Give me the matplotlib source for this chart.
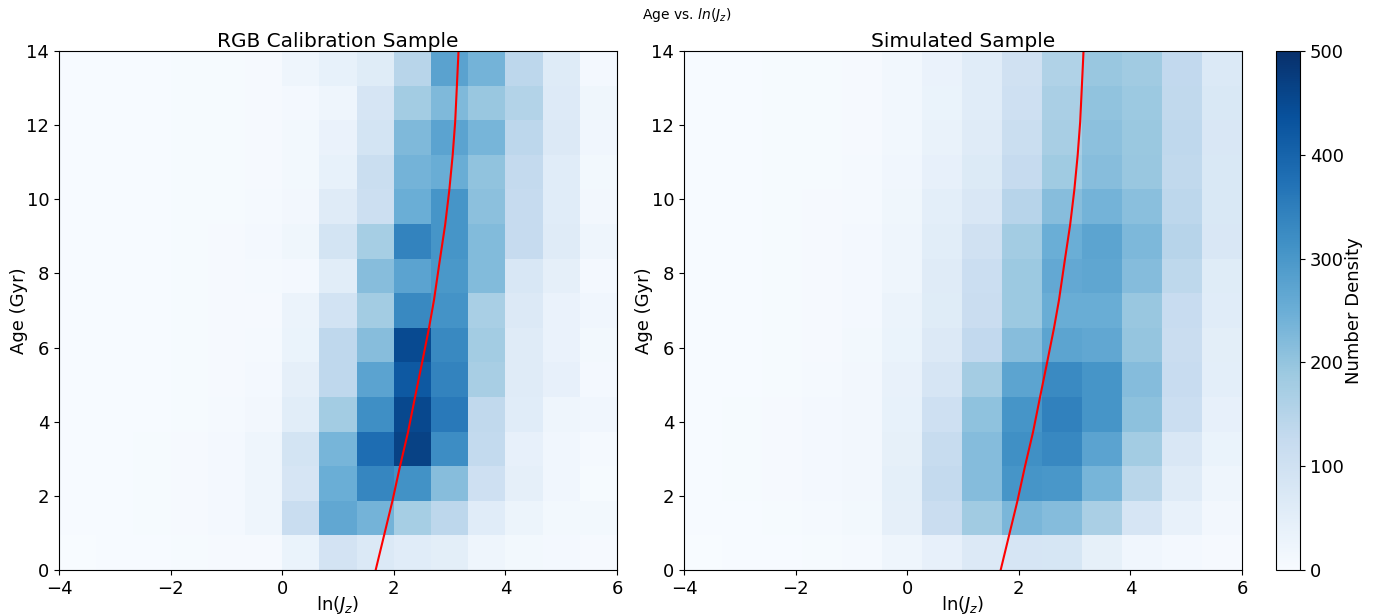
import numpy as np
import matplotlib
matplotlib.use('Agg')
import matplotlib.pyplot as plt

# bin edges
x_edges_rgb = np.linspace(-4, 6, 16)
x_edges_sim = np.linspace(-4.75, 6, 16)
age_edges = np.linspace(0, 14, 16)

# counts per bin, rows listed from the oldest (top) bin down to age 0
rgb_counts = [
    [2, 2, 3, 4, 5, 7, 25, 40, 60, 147, 276, 239, 139, 64, 10],
    [2, 2, 3, 4, 5, 6, 10, 25, 85, 180, 225, 195, 155, 65, 20],
    [2, 2, 3, 4, 5, 6, 12, 35, 90, 225, 275, 235, 140, 70, 18],
    [2, 2, 3, 4, 5, 7, 12, 40, 115, 240, 252, 205, 128, 58, 12],
    [2, 2, 3, 4, 5, 8, 15, 62, 110, 250, 305, 210, 125, 58, 14],
    [2, 2, 3, 4, 6, 10, 20, 90, 175, 340, 305, 222, 125, 62, 25],
    [2, 2, 3, 4, 6, 8, 10, 55, 215, 275, 300, 222, 80, 45, 10],
    [2, 2, 3, 4, 6, 7, 30, 95, 180, 330, 310, 170, 70, 35, 18],
    [2, 2, 3, 5, 6, 8, 32, 135, 215, 450, 330, 180, 62, 35, 12],
    [2, 2, 3, 5, 7, 10, 45, 135, 275, 420, 340, 172, 62, 42, 10],
    [2, 2, 3, 5, 8, 14, 55, 180, 318, 455, 360, 133, 58, 25, 18],
    [2, 2, 4, 6, 10, 24, 90, 235, 382, 465, 322, 130, 42, 18, 8],
    [2, 3, 4, 6, 10, 24, 85, 250, 335, 312, 215, 105, 45, 18, 5],
    [2, 3, 4, 6, 10, 25, 118, 265, 240, 175, 140, 58, 28, 12, 12],
    [1, 2, 3, 4, 6, 7, 33, 92, 72, 58, 52, 25, 12, 10, 7],
]

sim_counts = [
    [1, 2, 3, 4, 5, 7, 17, 35, 58, 100, 160, 195, 182, 132, 72],
    [1, 2, 3, 4, 5, 7, 17, 32, 58, 105, 168, 205, 190, 133, 75],
    [1, 2, 3, 4, 5, 7, 17, 37, 62, 115, 172, 210, 192, 135, 78],
    [1, 2, 3, 4, 5, 8, 18, 42, 68, 125, 185, 215, 195, 133, 76],
    [1, 2, 3, 4, 6, 8, 20, 50, 78, 150, 215, 240, 212, 140, 76],
    [1, 2, 3, 4, 6, 10, 22, 55, 100, 180, 250, 272, 227, 150, 78],
    [1, 2, 3, 4, 6, 10, 25, 62, 112, 190, 262, 268, 217, 137, 60],
    [1, 2, 3, 5, 7, 10, 30, 60, 117, 190, 252, 252, 195, 120, 58],
    [1, 2, 3, 5, 7, 12, 32, 70, 132, 215, 272, 265, 198, 117, 52],
    [1, 2, 3, 5, 8, 14, 38, 85, 178, 272, 328, 305, 217, 120, 50],
    [1, 2, 4, 6, 10, 15, 40, 105, 207, 305, 345, 305, 208, 112, 42],
    [1, 2, 4, 6, 10, 15, 43, 123, 217, 315, 332, 275, 180, 78, 33],
    [1, 2, 4, 6, 10, 15, 48, 128, 218, 305, 302, 235, 145, 62, 25],
    [1, 2, 3, 5, 8, 12, 45, 117, 183, 232, 217, 168, 85, 38, 14],
    [1, 1, 2, 3, 5, 8, 25, 42, 70, 85, 83, 44, 18, 10, 7],
]

# red relation
line_age = [0, 0.93, 1.86, 2.79, 3.72, 4.66, 5.58, 6.52, 7.28, 8.36, 9.31, 10.25, 11.19, 12.09, 13.04, 14.0]
line_lnjz = [1.675, 1.825, 1.975, 2.11, 2.255, 2.38, 2.505, 2.63, 2.72, 2.825, 2.92, 2.995, 3.055, 3.10, 3.13, 3.16]

fig = plt.figure(figsize=(13.74, 6.14), dpi=100)
ax1 = fig.add_axes([59/1374, 44/614, 558/1374, 519/614])
ax2 = fig.add_axes([684/1374, 44/614, 558/1374, 519/614])
cax = fig.add_axes([1276/1374, 44/614, 24/1374, 519/614])

panels = [(ax1, x_edges_rgb, rgb_counts, 'RGB Calibration Sample'),
          (ax2, x_edges_sim, sim_counts, 'Simulated Sample')]

for ax, xe, counts, title in panels:
    c = np.flipud(np.array(counts, dtype=float))
    mesh = ax.pcolormesh(xe, age_edges, c, cmap='Blues', vmin=0, vmax=500)
    ax.plot(line_lnjz, line_age, color='red', lw=1.5)
    ax.set_xlim(-4, 6)
    ax.set_ylim(0, 14)
    ax.set_xticks([-4, -2, 0, 2, 4, 6])
    ax.set_yticks([0, 2, 4, 6, 8, 10, 12, 14])
    ax.tick_params(labelsize=13)
    ax.set_xlabel(r'ln($J_z$)', fontsize=13, labelpad=-3)
    ax.set_ylabel('Age (Gyr)', fontsize=13, labelpad=-1)
    ax.set_title(title, fontsize=14.5, pad=2)

cb = fig.colorbar(mesh, cax=cax)
cb.set_ticks([0, 100, 200, 300, 400, 500])
cb.ax.tick_params(labelsize=13)
cb.set_label('Number Density', fontsize=13, labelpad=1)

fig.suptitle(r'Age vs. $ln(J_z)$', fontsize=10, y=0.99)

fig.savefig('out.png', dpi=100)
